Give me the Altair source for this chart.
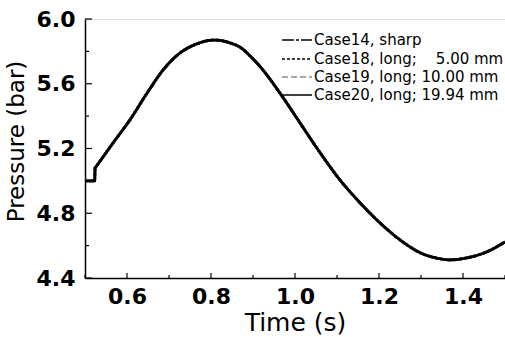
import altair as alt
import pandas as pd

# ---- data ----
time_s = [0.500, 0.523, 0.524, 0.526, 0.567, 0.607, 0.648, 0.686, 0.726, 0.767,
          0.790, 0.810, 0.830, 0.850, 0.869, 0.893, 0.917, 0.964, 1.012, 1.060,
          1.107, 1.155, 1.202, 1.250, 1.298, 1.345, 1.369, 1.410, 1.457, 1.500]
p_case14 = [5.000, 5.000, 5.080, 5.087, 5.235, 5.377, 5.543, 5.685, 5.790, 5.847,
            5.865, 5.870, 5.864, 5.848, 5.826, 5.772, 5.706, 5.543, 5.358, 5.173,
            5.006, 4.864, 4.741, 4.636, 4.556, 4.519, 4.512, 4.525, 4.562, 4.623]
p_case18 = list(p_case14)
p_case19 = list(p_case14)
p_case20 = list(p_case14)

cases = ["Case14", "Case18", "Case19", "Case20"]
legend_labels = ["Case14, sharp",
                 "Case18, long;\u2007\u20075.00 mm",
                 "Case19, long; 10.00 mm",
                 "Case20, long; 19.94 mm"]
line_colors = ["#000000", "#000000", "#8a8a8a", "#000000"]
line_dashes = [[12, 2, 3, 2], [3, 2], [6, 3], [1, 0]]

x_major = [0.6, 0.8, 1.0, 1.2, 1.4]
x_minor = [0.5, 0.7, 0.9, 1.1, 1.3, 1.5]
y_major = [4.4, 4.8, 5.2, 5.6, 6.0]
y_minor = [4.6, 5.0, 5.4, 5.8]

series = {"Case14": p_case14, "Case18": p_case18, "Case19": p_case19, "Case20": p_case20}
rows = []
for c in cases:
    for t, p in zip(time_s, series[c]):
        rows.append({"time": t, "pressure": p, "case": c})
df = pd.DataFrame(rows)

W, H = 420, 259
FONT = "DejaVu Sans"

xaxis = alt.Axis(values=x_major, format=".1f", title="Time (s)", ticks=False, grid=False,
                 labelFont=FONT, labelFontSize=22, labelFontWeight="bold", labelColor="black",
                 labelPadding=8, labelFlush=False,
                 titleFont=FONT, titleFontSize=25, titleFontWeight="normal", titleColor="black",
                 titlePadding=3, domainColor="black", domainWidth=1.5)
yaxis = alt.Axis(values=y_major, format=".1f", title="Pressure (bar)", ticks=False, grid=False,
                 labelFont=FONT, labelFontSize=22, labelFontWeight="bold", labelColor="black",
                 labelPadding=10, labelFlush=False,
                 titleFont=FONT, titleFontSize=23, titleFontWeight="normal", titleColor="black",
                 titlePadding=8, titleY=122, domainColor="black", domainWidth=1.5)

xs = alt.Scale(domain=[0.5, 1.5], nice=False, zero=False)
ys = alt.Scale(domain=[4.4, 6.0], nice=False, zero=False)
X = alt.X("time:Q", scale=xs, axis=xaxis)
Y = alt.Y("pressure:Q", scale=ys, axis=yaxis)

lines = alt.Chart(df).mark_line(strokeWidth=2.8, interpolate="monotone").encode(
    x=X, y=Y,
    color=alt.Color("case:N", scale=alt.Scale(domain=cases, range=line_colors), legend=None),
    strokeDash=alt.StrokeDash("case:N", scale=alt.Scale(domain=cases, range=line_dashes), legend=None),
)

xt_major = alt.Chart(pd.DataFrame({"time": x_major})).mark_rule(color="black", strokeWidth=1.2).encode(
    x=X, y=alt.value(H), y2=alt.value(H - 5))
xt_minor = alt.Chart(pd.DataFrame({"time": x_minor})).mark_rule(color="black", strokeWidth=1.2).encode(
    x=X, y=alt.value(H), y2=alt.value(H - 3))
yt_major = alt.Chart(pd.DataFrame({"pressure": y_major})).mark_rule(color="black", strokeWidth=1.2).encode(
    y=Y, x=alt.value(0), x2=alt.value(7))
yt_minor = alt.Chart(pd.DataFrame({"pressure": y_minor})).mark_rule(color="black", strokeWidth=1.2).encode(
    y=Y, x=alt.value(0), x2=alt.value(4))

layers = [lines, xt_major, xt_minor, yt_major, yt_minor]
row_y = [21, 40, 58, 76]
for i, lab in enumerate(legend_labels):
    d = pd.DataFrame({"label": [lab]})
    layers.append(alt.Chart(d).mark_rule(color=line_colors[i], strokeDash=line_dashes[i],
                                         strokeWidth=1.4).encode(
        x=alt.value(197), x2=alt.value(227), y=alt.value(row_y[i])))
    layers.append(alt.Chart(d).mark_text(align="left", baseline="middle", font=FONT,
                                         fontSize=15, color="black").encode(
        text="label:N", x=alt.value(229), y=alt.value(row_y[i])))

chart = alt.layer(*layers).properties(
    width=W, height=H,
    autosize=alt.AutoSizeParams(type="none"),
    padding={"left": 85, "top": 19, "right": 0, "bottom": 59},
).configure_view(stroke="black", strokeWidth=1.5).configure(background="white")

chart.save("out.html", embed_options={"renderer": "svg", "actions": False})
